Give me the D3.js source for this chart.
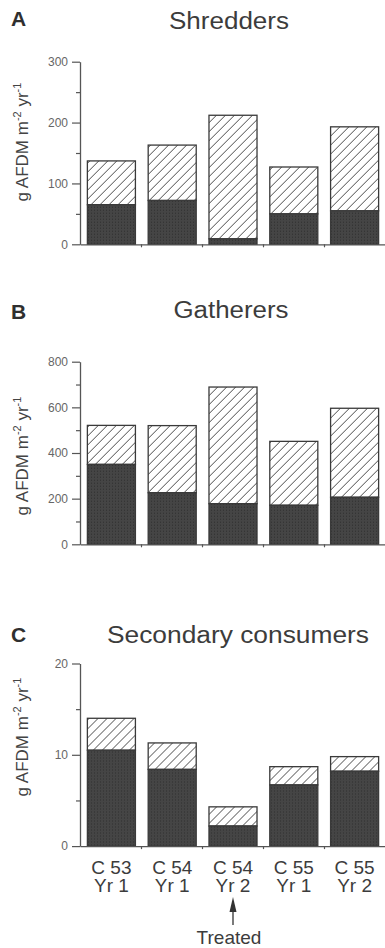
<!DOCTYPE html>
<html>
<head>
<meta charset="utf-8">
<script src="https://cdn.jsdelivr.net/npm/d3@7"></script>
<style>
  body { margin: 0; background: #fff; }
  svg { display: block; font-family: "Liberation Sans", Arial, sans-serif; }
</style>
</head>
<body>
<div id="chart"></div>
<script>
/* DATA */
const sites = ["C 53", "C 54", "C 54", "C 55", "C 55"];
const years = ["Yr 1", "Yr 1", "Yr 2", "Yr 1", "Yr 2"];

// total bar height and the dark (lower) part
const shreddersTotal = [137, 163, 212, 127, 193];
const shreddersDark = [65, 72, 9, 50, 55];
const gatherersTotal = [521, 520, 689, 451, 596];
const gatherersDark = [350, 226, 178, 171, 206];
const secondaryTotal = [14.0, 11.3, 4.3, 8.7, 9.8];
const secondaryDark = [10.5, 8.4, 2.2, 6.7, 8.2];

const shreddersTicks = [0, 100, 200, 300];
const gatherersTicks = [0, 200, 400, 600, 800];
const secondaryTicks = [0, 10, 20];

/* LAYOUT */
const W = 385, H = 948,
  left = 81, right = 385,
  plotH = 182.6;

const panels = [
  { letter: "A", title: "Shredders", total: shreddersTotal, dark: shreddersDark,
    ticks: shreddersTicks, minor: 50, top: 61.7, titleX: 229, titleY: 29, titleW: 120, letterY: 26, labelY: 142 },
  { letter: "B", title: "Gatherers", total: gatherersTotal, dark: gatherersDark,
    ticks: gatherersTicks, minor: 100, top: 361.7, titleX: 231, titleY: 318, titleW: 115, letterY: 319, labelY: 456 },
  { letter: "C", title: "Secondary consumers", total: secondaryTotal, dark: secondaryDark,
    ticks: secondaryTicks, minor: 5, top: 663.5, titleX: 238, titleY: 643, titleW: 262, letterY: 642, labelY: 737 }
];

const svg = d3.select("#chart").append("svg")
  .attr("width", W).attr("height", H);

// hatch + stipple patterns
const defs = svg.append("defs");
const hatch = defs.append("pattern")
  .attr("id", "hatch")
  .attr("patternUnits", "userSpaceOnUse")
  .attr("width", 9).attr("height", 9);
hatch.append("rect").attr("width", 9).attr("height", 9).attr("fill", "#fff");
hatch.append("path")
  .attr("d", "M-1,10 L10,-1 M-3,3 L3,-3 M6,12 L12,6")
  .attr("stroke", "#4a4a4a").attr("stroke-width", 1);

const dots = defs.append("pattern")
  .attr("id", "stipple")
  .attr("patternUnits", "userSpaceOnUse")
  .attr("width", 3).attr("height", 3);
dots.append("rect").attr("width", 3).attr("height", 3).attr("fill", "#454545");
dots.append("rect").attr("x", 1).attr("y", 1).attr("width", 1).attr("height", 1).attr("fill", "#2e2e2e");

const x = d3.scaleBand()
  .domain(d3.range(sites.length))
  .range([left, right])
  .paddingInner(0.21)
  .paddingOuter(0.105);

// band edges for the x tick marks
const xEdge = d3.scaleLinear().domain([0, sites.length]).range([left - 1, right]);

panels.forEach(p => {
  const g = svg.append("g").attr("transform", `translate(0,${p.top})`);
  const yMax = p.ticks[p.ticks.length - 1];
  const y = d3.scaleLinear().domain([0, yMax]).range([plotH, 0]);

  // title + letter
  svg.append("text")
    .attr("x", p.titleX).attr("y", p.titleY)
    .attr("text-anchor", "middle")
    .attr("font-size", 23).attr("fill", "#3c3c3c")
    .attr("textLength", p.titleW).attr("lengthAdjust", "spacingAndGlyphs")
    .text(p.title);
  svg.append("text")
    .attr("x", 11).attr("y", p.letterY)
    .attr("font-size", 21).attr("font-weight", "bold").attr("fill", "#2f2f2f")
    .text(p.letter);

  // y label
  const lab = svg.append("text")
    .attr("transform", `translate(28,${p.labelY}) rotate(-90)`)
    .attr("text-anchor", "middle")
    .attr("font-size", 17).attr("fill", "#444");
  lab.append("tspan").text("g AFDM m");
  lab.append("tspan").attr("dy", -7).attr("font-size", 11).text("-2");
  lab.append("tspan").attr("dy", 7).text(" yr");
  lab.append("tspan").attr("dy", -7).attr("font-size", 11).text("-1");

  // bars
  const idx = d3.range(sites.length);
  g.selectAll("rect.hatched").data(idx).join("rect")
    .attr("class", "hatched")
    .attr("x", i => x(i)).attr("width", x.bandwidth())
    .attr("y", i => y(p.total[i]))
    .attr("height", i => y(p.dark[i]) - y(p.total[i]))
    .attr("fill", "url(#hatch)")
    .attr("stroke", "#3a3a3a").attr("stroke-width", 1.3);
  g.selectAll("rect.dark").data(idx).join("rect")
    .attr("class", "dark")
    .attr("x", i => x(i)).attr("width", x.bandwidth())
    .attr("y", i => y(p.dark[i]))
    .attr("height", i => plotH - y(p.dark[i]))
    .attr("fill", "url(#stipple)")
    .attr("stroke", "#3a3a3a").attr("stroke-width", 1.3);

  // minor y ticks
  const minorVals = d3.range(0, yMax + 0.001, p.minor).filter(v => !p.ticks.includes(v));
  g.append("g")
    .attr("transform", `translate(${left - 1},0)`)
    .call(d3.axisLeft(y).tickValues(minorVals).tickSize(4).tickFormat("").tickSizeOuter(0))
    .call(a => a.select(".domain").remove())
    .call(a => a.selectAll("line").attr("stroke", "#555").attr("stroke-width", 1.2));

  // major y axis
  g.append("g")
    .attr("transform", `translate(${left - 1},0)`)
    .call(d3.axisLeft(y).tickValues(p.ticks).tickSize(8).tickPadding(4).tickSizeOuter(0))
    .call(a => a.select(".domain").attr("stroke", "#555").attr("stroke-width", 1.3))
    .call(a => a.selectAll("line").attr("stroke", "#555").attr("stroke-width", 1.2))
    .call(a => a.selectAll("text").attr("font-size", 12).attr("fill", "#666")
      .attr("font-family", "'Liberation Sans', Arial, sans-serif"));

  // x axis with ticks between bars
  g.append("g")
    .attr("transform", `translate(0,${plotH})`)
    .call(d3.axisBottom(xEdge).tickValues([1, 2, 3, 4])
      .tickSize(3).tickFormat("").tickSizeOuter(0))
    .call(a => a.select(".domain").attr("stroke", "#555").attr("stroke-width", 1.3))
    .call(a => a.selectAll("line").attr("stroke", "#555").attr("stroke-width", 1.2));

  // category labels only under the last panel
  if (p.letter === "C") {
    g.selectAll("text.site").data(idx).join("text")
      .attr("class", "site")
      .attr("text-anchor", "middle")
      .attr("font-size", 19).attr("fill", "#3c3c3c")
      .attr("x", i => x(i) + x.bandwidth() / 2).attr("y", plotH + 28)
      .text(i => sites[i]);
    g.selectAll("text.year").data(idx).join("text")
      .attr("class", "year")
      .attr("text-anchor", "middle")
      .attr("font-size", 19).attr("fill", "#3c3c3c")
      .attr("x", i => x(i) + x.bandwidth() / 2).attr("y", plotH + 46)
      .text(i => years[i]);

    // arrow under treated bar
    const ax = x(2) + x.bandwidth() / 2;
    g.append("line")
      .attr("x1", ax).attr("x2", ax)
      .attr("y1", plotH + 64).attr("y2", plotH + 79)
      .attr("stroke", "#333").attr("stroke-width", 1.3);
    g.append("path")
      .attr("d", `M${ax},${plotH + 51} L${ax - 3.5},${plotH + 66} L${ax + 3.5},${plotH + 66} Z`)
      .attr("fill", "#333");
    g.append("text")
      .attr("x", ax - 4).attr("y", plotH + 98)
      .attr("text-anchor", "middle")
      .attr("font-size", 19).attr("fill", "#3c3c3c")
      .text("Treated");
  }
});
</script>
</body>
</html>
